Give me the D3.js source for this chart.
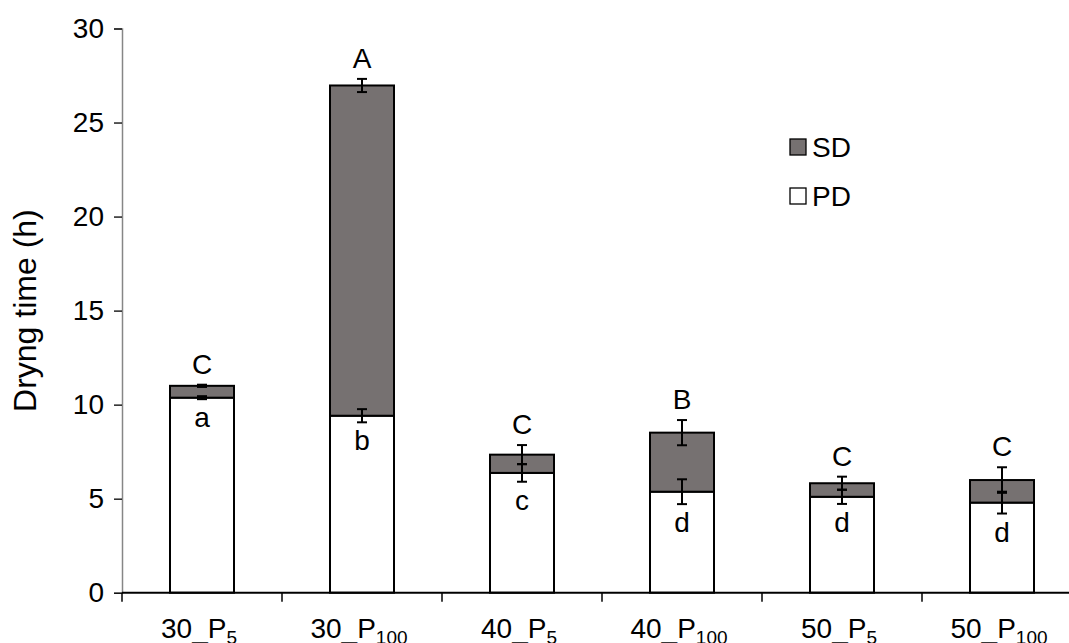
<!DOCTYPE html>
<html>
<head>
<meta charset="utf-8">
<script src="https://d3js.org/d3.v7.min.js"></script>
<title>Drying time</title>
<style>
  body { margin: 0; background: #fff; }
  text { font-family: 'Liberation Sans', Arial, sans-serif; fill: #000; }
</style>
</head>
<body>
<script>
// data
var temps    = ["30", "30", "40", "40", "50", "50"],
    powers   = ["5", "100", "5", "100", "5", "100"],
    pd       = [10.37, 9.41, 6.37, 5.37, 5.10, 4.79],
    sd       = [0.63, 17.56, 0.97, 3.14, 0.72, 1.20],
    pdErr    = [0.08, 0.35, 0.47, 0.66, 0.38, 0.58],
    totErr   = [0.06, 0.35, 0.51, 0.67, 0.35, 0.68],
    upLetter = ["C", "A", "C", "B", "C", "C"],
    loLetter = ["a", "b", "c", "d", "d", "d"],
    yTicks   = [0, 5, 10, 15, 20, 25, 30];

var cats = temps.map(function(t, i){ return t + "_P" + powers[i]; });

var W = 1069, H = 643,
    mLeft = 122, mRight = 1082,
    mTop = 28.5, mBottom = 592.7,
    fs = 28,
    sdColour = "#767171",
    axisColour = "#868686";

var svg = d3.select("body").append("svg")
  .attr("width", W)
  .attr("height", H);

var x = d3.scaleBand().domain(cats).range([mLeft, mRight]);
var y = d3.scaleLinear().domain([0, 30]).range([mBottom, mTop]);
var bw = x.bandwidth() * 0.4;

// y axis
var yAxis = svg.append("g")
  .attr("transform", "translate(" + mLeft + ",0)")
  .call(d3.axisLeft(y).tickValues(yTicks).tickSize(8).tickPadding(10));
yAxis.select(".domain").attr("stroke", axisColour).attr("stroke-width", 1.5);
yAxis.selectAll(".tick line").attr("stroke", "#000").attr("stroke-width", 1.3);
yAxis.selectAll(".tick text")
  .style("font-family", "'Liberation Sans', Arial, sans-serif")
  .style("font-size", fs + "px").attr("fill", "#000");

svg.append("text")
  .attr("transform", "translate(36," + y(15) + ") rotate(-90)")
  .attr("text-anchor", "middle")
  .style("font-size", "32px")
  .text("Dryng time (h)");

var cx = function(d){ return x(d) + x.bandwidth() / 2; };

// bars
var g = svg.append("g");
g.selectAll("rect.pd").data(cats).enter().append("rect")
  .attr("class", "pd")
  .attr("x", function(d){ return cx(d) - bw / 2; })
  .attr("y", function(d, i){ return y(pd[i]); })
  .attr("width", bw)
  .attr("height", function(d, i){ return y(0) - y(pd[i]); })
  .attr("fill", "#fff").attr("stroke", "#000").attr("stroke-width", 2);
g.selectAll("rect.sd").data(cats).enter().append("rect")
  .attr("class", "sd")
  .attr("x", function(d){ return cx(d) - bw / 2; })
  .attr("y", function(d, i){ return y(pd[i] + sd[i]); })
  .attr("width", bw)
  .attr("height", function(d, i){ return y(pd[i]) - y(pd[i] + sd[i]); })
  .attr("fill", sdColour).attr("stroke", "#000").attr("stroke-width", 2);

// x axis (drawn over bar bottoms)
var xAxis = svg.append("g")
  .attr("transform", "translate(0," + mBottom + ")");
xAxis.append("line")
  .attr("x1", mLeft).attr("x2", mRight)
  .attr("stroke", "#000").attr("stroke-width", 2);
xAxis.selectAll("line.tk").data(cats).enter().append("line")
  .attr("class", "tk")
  .attr("x1", function(d){ return x(d); }).attr("x2", function(d){ return x(d); })
  .attr("y1", 0).attr("y2", 9)
  .attr("stroke", "#000").attr("stroke-width", 1.5);

var lab = xAxis.selectAll("text.xl").data(cats).enter().append("text")
  .attr("class", "xl")
  .attr("x", function(d){ return cx(d) - 3; })
  .attr("y", 45)
  .attr("text-anchor", "middle")
  .style("font-size", fs + "px");
lab.append("tspan").text(function(d, i){ return temps[i] + "_P"; });
lab.append("tspan").attr("dy", 6).style("font-size", "19px")
  .text(function(d, i){ return powers[i]; });

// error bars
function errBar(val, err, d) {
  var c = cx(d), cap = 5;
  var e = svg.append("g").attr("stroke", "#000").attr("stroke-width", 2);
  e.append("line").attr("x1", c).attr("x2", c)
    .attr("y1", y(val - err)).attr("y2", y(val + err));
  e.append("line").attr("x1", c - cap).attr("x2", c + cap)
    .attr("y1", y(val - err)).attr("y2", y(val - err));
  e.append("line").attr("x1", c - cap).attr("x2", c + cap)
    .attr("y1", y(val + err)).attr("y2", y(val + err));
}
cats.forEach(function(d, i){
  errBar(pd[i], pdErr[i], d);
  errBar(pd[i] + sd[i], totErr[i], d);
});

// significance letters
svg.selectAll("text.up").data(cats).enter().append("text")
  .attr("class", "up")
  .attr("x", function(d){ return cx(d); })
  .attr("y", function(d, i){ return y(pd[i] + sd[i] + totErr[i]) - 11; })
  .attr("text-anchor", "middle")
  .style("font-size", fs + "px")
  .text(function(d, i){ return upLetter[i]; });
svg.selectAll("text.lo").data(cats).enter().append("text")
  .attr("class", "lo")
  .attr("x", function(d){ return cx(d); })
  .attr("y", function(d, i){ return y(pd[i] - pdErr[i]) + 28; })
  .attr("text-anchor", "middle")
  .style("font-size", fs + "px")
  .text(function(d, i){ return loLetter[i]; });

// legend
var legend = svg.append("g").attr("transform", "translate(790,139)");
var items = [{name: "SD", fill: sdColour}, {name: "PD", fill: "#fff"}];
var li = legend.selectAll("g").data(items).enter().append("g")
  .attr("transform", function(d, i){ return "translate(0," + i * 49 + ")"; });
li.append("rect")
  .attr("width", 16).attr("height", 16)
  .attr("fill", function(d){ return d.fill; })
  .attr("stroke", "#000").attr("stroke-width", 1.3);
li.append("text")
  .attr("x", 22).attr("y", 18)
  .style("font-size", fs + "px")
  .text(function(d){ return d.name; });
</script>
</body>
</html>
